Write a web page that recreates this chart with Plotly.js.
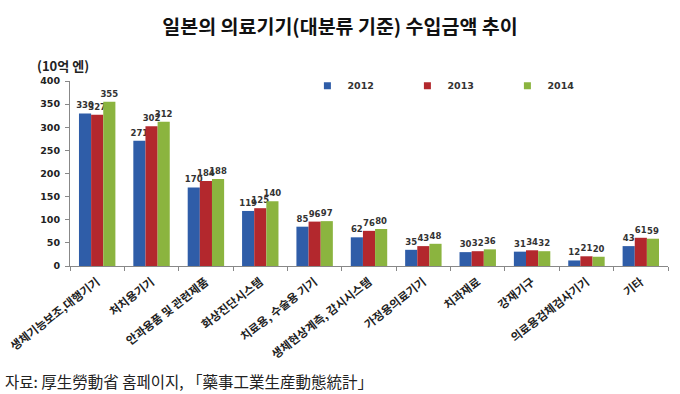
<!DOCTYPE html>
<html><head><meta charset="utf-8">
<script src="https://cdn.plot.ly/plotly-3.0.1.min.js"></script>
<style>body{margin:0;background:#fff}#c{width:680px;height:394px}</style>
</head><body><div id="c"></div>
<script>
const categories = ["생체기능보조,대행기기","처치용기기","안과용품 및 관련제품","화상진단시스템","치료용, 수술용 기기","생체현상계측, 감시시스템","가정용의료기기","치과재료","강재기구","의료용검체검사기기","기타"];
const v2012 = [330,271,170,119,85,62,35,30,31,12,43];
const v2013 = [327,302,184,125,96,76,43,32,34,21,61];
const v2014 = [355,312,188,140,97,80,48,36,32,20,59];
const years = ["2012","2013","2014"];
const colors = ["#2F5DA8","#B3282D","#8BB43F"];
const font = "Noto Sans CJK KR, sans-serif";
const series = [v2012,v2013,v2014];
const traces = series.map((v,i)=>({
  type:"bar", x:categories, y:v, name:years[i], showlegend:false,
  marker:{color:colors[i]},
  text:v.map(String), texttemplate:"<b>%{text}</b>", textposition:"outside", cliponaxis:false,
  constraintext:"none",
  textfont:{family:"DejaVu Sans, sans-serif", size:8.5, color:"#333"}
}));
const legendTraces = years.map((y,i)=>({
  type:"scatter", mode:"markers", x:[null], y:[null], name:y,
  marker:{symbol:"square", size:7, color:colors[i]}, hoverinfo:"skip"
}));
const layout = {
  width:680, height:394,
  margin:{l:70,r:12,t:81,b:128},
  paper_bgcolor:"#fff", plot_bgcolor:"#fff",
  barmode:"group", bargap:0.33, bargroupgap:0,
  showlegend:true,
  legend:{orientation:"h", x:0.397, xanchor:"left", y:0.975, yanchor:"middle",
    font:{family:"DejaVu Sans, sans-serif", size:9.5, color:"#333", weight:"bold"},
    entrywidth:55, entrywidthmode:"pixels", itemwidth:30, traceorder:"normal", bgcolor:"rgba(0,0,0,0)"},
  title:{text:"<b>일본의 의료기기(대분류 기준) 수입금액 추이</b>", x:0.5, xanchor:"center", y:0.93, yanchor:"middle",
    font:{family:font, size:19.5, color:"#111"}},
  xaxis:{type:"category", tickangle:-38, tickson:"boundaries", ticks:"outside", ticklen:4, tickcolor:"#888",
    showline:true, linecolor:"#888", linewidth:1, ticklabelstandoff:4,
    tickfont:{family:font, size:11.5, color:"#222", weight:"bold"}, automargin:false},
  yaxis:{range:[0,400], dtick:50, ticks:"outside", ticklen:4, tickcolor:"#888", showgrid:false,
    showline:true, linecolor:"#888", zeroline:false, ticklabelstandoff:3,
    tickfont:{family:"DejaVu Sans, sans-serif", size:9.5, color:"#222", weight:"bold"}, automargin:false},
  annotations:[
    {text:"<b>(10억 엔)</b>", xref:"paper", yref:"paper", x:-0.012, y:1.086, xanchor:"center", yanchor:"middle", showarrow:false,
     font:{family:font, size:13, color:"#222"}},
    {text:"자료: 厚生勞動省 홈페이지, 「藥事工業生産動態統計」", xref:"paper", yref:"paper", x:-0.112, y:-0.62, xanchor:"left", yanchor:"middle", showarrow:false,
     font:{family:font, size:15.5, color:"#222"}}
  ]
};
Plotly.newPlot("c", traces.concat(legendTraces), layout, {displayModeBar:false});
</script></body></html>
